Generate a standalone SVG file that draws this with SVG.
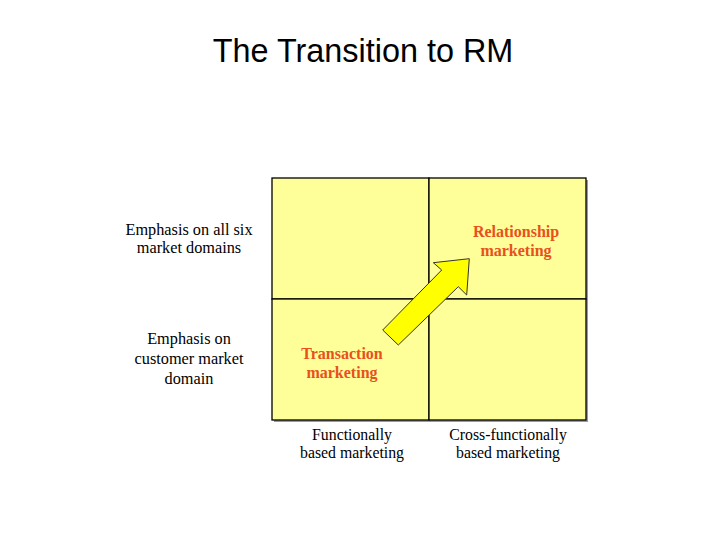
<svg xmlns="http://www.w3.org/2000/svg" width="728" height="546" viewBox="0 0 728 546">
<style>
.lbl{font-family:"Liberation Serif","Times New Roman",serif;font-size:16.3px;fill:#000;text-anchor:middle}
.bot{font-size:15.8px}
.red{font-family:"Liberation Serif","Times New Roman",serif;font-size:16px;font-weight:bold;fill:#E8501E;text-anchor:middle}
.cell{fill:#FFFF99;stroke:#000;stroke-width:1.3}
</style>
<rect width="728" height="546" fill="#fff"/>
<text x="363" y="62" font-family="'Liberation Sans',Arial,sans-serif" font-size="32.4" text-anchor="middle" fill="#000">The Transition to RM</text>
<g id="grid">
<rect x="274" y="180" width="314" height="242" fill="#9a9a9a"/>
<rect id="q1" class="cell" x="272" y="178" width="157" height="121"/>
<rect id="q2" class="cell" x="429" y="178" width="157" height="121"/>
<rect id="q3" class="cell" x="272" y="299" width="157" height="121"/>
<rect id="q4" class="cell" x="429" y="299" width="157" height="121"/>
</g>
<g id="relationship">
<text class="red" x="516" y="237">Relationship</text>
<text class="red" x="516" y="256">marketing</text>
</g>
<g id="transaction">
<text class="red" x="342" y="359">Transaction</text>
<text class="red" x="342" y="378">marketing</text>
</g>
<g id="connectors">
<polygon points="382.7,330 441.7,270 433.3,262.7 469.3,258.7 466.7,295 458.3,286.7 398.3,345" fill="#FFFF00" stroke="#333" stroke-width="1" stroke-linejoin="miter"/>
</g>
<g id="row-labels">
<text class="lbl" x="189" y="235">Emphasis on all six</text>
<text class="lbl" x="189" y="253">market domains</text>
<text class="lbl" x="189" y="344">Emphasis on</text>
<text class="lbl" x="189" y="364">customer market</text>
<text class="lbl" x="189" y="384">domain</text>
</g>
<g id="col-labels">
<text class="lbl bot" x="352" y="440">Functionally</text>
<text class="lbl bot" x="352" y="458">based marketing</text>
<text class="lbl bot" x="508" y="440">Cross-functionally</text>
<text class="lbl bot" x="508" y="458">based marketing</text>
</g>
</svg>
